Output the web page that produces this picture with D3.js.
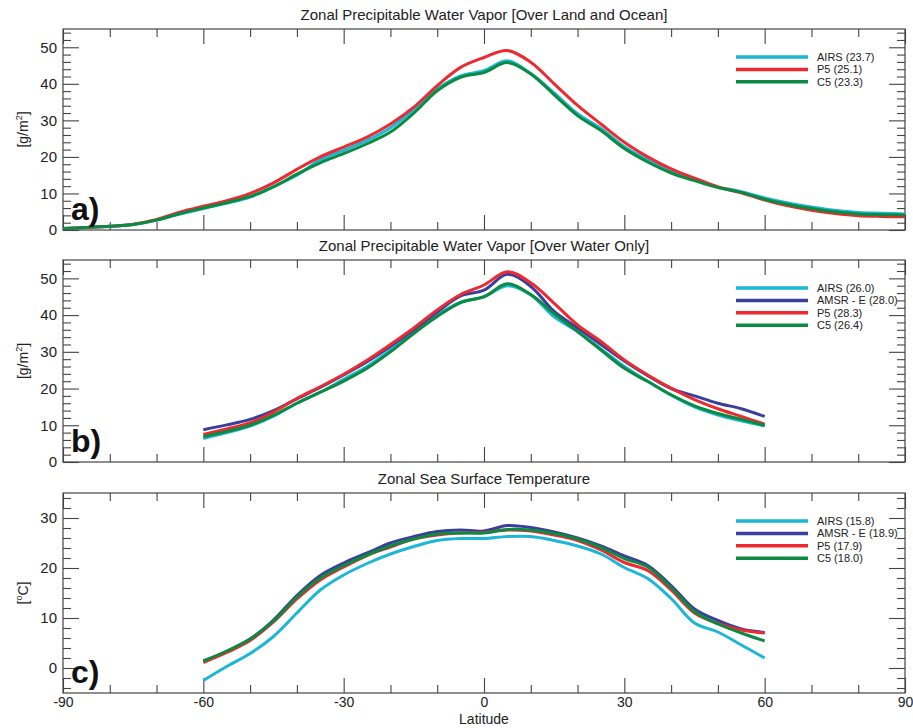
<!DOCTYPE html>
<html>
<head>
<meta charset="utf-8">
<script src="https://cdn.jsdelivr.net/npm/d3@7"></script>
<style>
  body { margin: 0; background: #fff; }
  svg { display: block; font-family: Helvetica, "Liberation Sans", Arial, sans-serif; }
</style>
</head>
<body>
<svg id="chart" width="913" height="728"></svg>
<script>
// latitude grids
const latGlobal = [-90, -85, -80, -75, -70, -65, -60, -55, -50, -45, -40, -35, -30, -25, -20, -15, -10, -5,
  0, 5, 10, 15, 20, 25, 30, 35, 40, 45, 50, 55, 60, 65, 70, 75, 80, 85, 90]
const latOcean = [-60, -55, -50, -45, -40, -35, -30, -25, -20, -15, -10, -5,
  0, 5, 10, 15, 20, 25, 30, 35, 40, 45, 50, 55, 60]

// a) precipitable water, land + ocean [g/m2]
const pwvAllAirs = [0.4, 0.7, 1.0, 1.5, 2.7, 4.4, 5.9, 7.3, 9.0, 11.9, 15.0, 19.2, 21.8, 24.5, 28.0, 33.0, 38.6, 42.2,
  43.6, 46.3, 42.8, 37.5, 31.8, 27.8, 22.8, 19.2, 16.0, 13.8, 11.8, 10.5, 8.8, 7.4, 6.3, 5.4, 4.8, 4.6, 4.4]
const pwvAllP5 = [0.4, 0.7, 1.0, 1.6, 2.9, 4.9, 6.5, 8.0, 10.0, 12.9, 16.6, 20.0, 22.7, 25.4, 29.0, 33.6, 39.5, 44.5,
  47.2, 49.1, 45.9, 40.0, 34.1, 29.0, 24.0, 20.0, 16.7, 14.2, 11.8, 10.2, 8.2, 6.6, 5.4, 4.5, 3.9, 3.7, 3.6]
const pwvAllC5 = [0.4, 0.7, 1.0, 1.5, 2.7, 4.5, 6.0, 7.5, 9.2, 11.8, 15.3, 18.4, 20.9, 23.6, 26.8, 32.0, 38.1, 41.8,
  43.1, 45.8, 42.7, 37.0, 31.3, 27.2, 22.3, 18.6, 15.6, 13.5, 11.6, 10.3, 8.4, 7.0, 5.9, 5.0, 4.4, 4.2, 4.1]

// b) precipitable water, ocean only [g/m2]
const pwvSeaAirs = [6.4, 8.0, 9.8, 12.5, 16.0, 19.0, 22.5, 26.0, 30.5, 35.5, 40.0, 43.5,
  45.0, 48.0, 45.5, 39.5, 35.5, 30.8, 26.0, 22.0, 18.2, 15.0, 12.8, 11.2, 9.8]
const pwvSeaAmsr = [8.8, 10.1, 11.6, 14.0, 17.2, 20.3, 23.7, 27.3, 31.5, 36.0, 40.8, 45.2,
  46.8, 51.1, 47.8, 41.0, 36.5, 32.0, 27.5, 23.5, 20.0, 18.0, 16.0, 14.5, 12.4]
const pwvSeaP5 = [7.5, 9.0, 10.7, 13.6, 17.3, 20.5, 23.9, 27.7, 32.0, 36.5, 41.4, 45.6,
  48.2, 51.8, 48.8, 43.2, 37.3, 32.8, 27.8, 23.7, 20.1, 17.0, 14.5, 12.4, 10.3]
const pwvSeaC5 = [6.9, 8.3, 10.0, 12.7, 16.0, 19.0, 22.0, 25.5, 30.0, 35.0, 39.6, 43.4,
  45.0, 48.5, 45.6, 40.4, 35.5, 30.5, 25.5, 21.9, 18.3, 15.3, 13.2, 11.6, 10.0]

// c) sea surface temperature [degC]
const sstAirs = [-2.5, 0.3, 2.9, 6.3, 11.0, 15.6, 18.6, 20.9, 22.8, 24.3, 25.5, 25.9,
  25.9, 26.3, 26.3, 25.5, 24.4, 22.8, 20.1, 17.9, 13.9, 9.0, 7.2, 4.6, 2.0]
const sstAmsr = [1.4, 3.3, 5.8, 9.6, 14.5, 18.5, 21.0, 23.0, 25.0, 26.3, 27.3, 27.6,
  27.4, 28.5, 28.1, 27.2, 26.0, 24.4, 22.4, 20.5, 16.5, 11.8, 9.5, 7.8, 7.1]
const sstP5 = [1.1, 3.1, 5.5, 9.2, 13.8, 17.6, 20.2, 22.5, 24.2, 25.8, 26.6, 27.0,
  27.1, 27.6, 27.4, 26.6, 25.5, 23.6, 21.1, 19.5, 15.6, 11.0, 8.9, 7.6, 7.0]
const sstC5 = [1.4, 3.4, 5.8, 9.4, 14.2, 18.0, 20.5, 22.6, 24.4, 25.8, 26.8, 27.0,
  27.0, 27.7, 27.6, 26.9, 25.8, 24.1, 21.9, 20.2, 16.1, 11.3, 8.8, 7.0, 5.4]

// labels
const titles = ["Zonal Precipitable Water Vapor [Over Land and Ocean]",
  "Zonal Precipitable Water Vapor [Over Water Only]",
  "Zonal Sea Surface Temperature"]
const panelTags = ["a)", "b)", "c)"]
const legendAll = ["AIRS (23.7)", "P5 (25.1)", "C5 (23.3)"]
const legendSea = ["AIRS (26.0)", "AMSR - E (28.0)", "P5 (28.3)", "C5 (26.4)"]
const legendSst = ["AIRS (15.8)", "AMSR - E (18.9)", "P5 (17.9)", "C5 (18.0)"]
const xTickLabels = [-90, -60, -30, 0, 30, 60, 90]
const xTicksMinor = [-80, -70, -50, -40, -20, -10, 10, 20, 40, 50, 70, 80]
const yTicksPwv = [0, 10, 20, 30, 40, 50]
const yTicksSst = [0, 10, 20, 30]

const colAirs = "#1cb6d6", colAmsr = "#3a3f9e", colP5 = "#ec2a30", colC5 = "#0c8a42"

const panels = [
  { top: 29, bottom: 230, domain: [0, 55], ticks: yTicksPwv, unit: "g/m",
    series: [[pwvAllAirs, colAirs], [pwvAllP5, colP5], [pwvAllC5, colC5]], lat: latGlobal, legend: legendAll },
  { top: 260, bottom: 462, domain: [0, 55], ticks: yTicksPwv, unit: "g/m",
    series: [[pwvSeaAirs, colAirs], [pwvSeaAmsr, colAmsr], [pwvSeaP5, colP5], [pwvSeaC5, colC5]], lat: latOcean, legend: legendSea },
  { top: 493, bottom: 693, domain: [-5, 35], ticks: yTicksSst, unit: "C",
    series: [[sstAirs, colAirs], [sstAmsr, colAmsr], [sstP5, colP5], [sstC5, colC5]], lat: latOcean, legend: legendSst }
]

const left = 63, right = 905
const svg = d3.select("#chart")
const x = d3.scaleLinear().domain([-90, 90]).range([left, right])
const plain = d => String(d)   // hyphen minus, as in the original

panels.forEach((p, i) => {
  const y = d3.scaleLinear().domain(p.domain).range([p.bottom, p.top])
  const g = svg.append("g")
  const minorY = d3.range(Math.ceil(p.domain[0] / 2) * 2, p.domain[1], 2).filter(v => v % 10 !== 0)

  // title
  g.append("text")
    .attr("x", (left + right) / 2).attr("y", p.top - 9)
    .attr("text-anchor", "middle").attr("font-size", 15).attr("fill", "#222")
    .text(titles[i])

  // ticks, all pointing inward
  const addAxis = (axis, tx, ty, keepText) => {
    const a = g.append("g").attr("transform", `translate(${tx},${ty})`).call(axis)
    a.select(".domain").remove()
    a.selectAll(".tick line").attr("stroke", "#444").attr("stroke-width", 1.1)
    a.selectAll("text").attr("font-size", 15).attr("fill", "#222").attr("font-family", null)
    if (!keepText) a.selectAll("text").remove()
    return a
  }
  const bottomAxis = addAxis(d3.axisBottom(x).tickValues(xTickLabels).tickSize(-15).tickPadding(9)
    .tickFormat(plain), 0, p.bottom, i === 2)
  bottomAxis.selectAll("text").attr("dy", "0.35em").attr("font-size", 14)
  addAxis(d3.axisBottom(x).tickValues(xTicksMinor).tickSize(-8), 0, p.bottom, false)
  addAxis(d3.axisTop(x).tickValues(xTickLabels).tickSize(-15), 0, p.top, false)
  addAxis(d3.axisTop(x).tickValues(xTicksMinor).tickSize(-8), 0, p.top, false)
  addAxis(d3.axisLeft(y).tickValues(p.ticks).tickSize(-16).tickPadding(6).tickFormat(plain), left, 0, true)
  addAxis(d3.axisLeft(y).tickValues(minorY).tickSize(-8), left, 0, false)
  addAxis(d3.axisRight(y).tickValues(p.ticks).tickSize(-16), right, 0, false)
  addAxis(d3.axisRight(y).tickValues(minorY).tickSize(-8), right, 0, false)

  // frame
  g.append("rect")
    .attr("x", left).attr("y", p.top)
    .attr("width", right - left).attr("height", p.bottom - p.top)
    .attr("fill", "none").attr("stroke", "#444").attr("stroke-width", 1.2)

  // y label
  const yl = g.append("text")
    .attr("transform", `translate(28,${(p.top + p.bottom) / 2}) rotate(-90)`)
    .attr("text-anchor", "middle").attr("font-size", 14).attr("fill", "#222")
  if (p.unit === "g/m") {
    yl.append("tspan").text("[g/m")
    yl.append("tspan").attr("dy", -6).attr("font-size", 9).text("2")
    yl.append("tspan").attr("dy", 6).text("]")
  } else {
    yl.append("tspan").text("[")
    yl.append("tspan").attr("dy", -6).attr("font-size", 9).text("o")
    yl.append("tspan").attr("dy", 6).text("C]")
  }

  // curves
  const line = d3.line()
    .x((d, k) => x(p.lat[k]))
    .y(d => y(d))
    .curve(d3.curveCatmullRom.alpha(0.5))
  p.series.forEach(([vals, col]) => {
    g.append("path")
      .datum(vals)
      .attr("d", line)
      .attr("fill", "none")
      .attr("stroke", col)
      .attr("stroke-width", 3)
      .attr("stroke-linejoin", "round")
  })

  // panel tag
  g.append("text")
    .attr("x", 71).attr("y", p.bottom - 10)
    .attr("font-size", 32).attr("font-weight", "bold").attr("fill", "#111")
    .text(panelTags[i])

  // legend
  const leg = g.append("g")
  p.legend.forEach((lab, k) => {
    const ly = p.top + 28 + k * 12.4
    leg.append("line")
      .attr("x1", 736).attr("x2", 808).attr("y1", ly).attr("y2", ly)
      .attr("stroke", p.series[k][1]).attr("stroke-width", 3.5)
    leg.append("text")
      .attr("x", 817).attr("y", ly + 4)
      .attr("font-size", 11).attr("fill", "#222")
      .text(lab)
  })
})

svg.append("text")
  .attr("x", (left + right) / 2).attr("y", 724)
  .attr("text-anchor", "middle").attr("font-size", 14).attr("fill", "#222")
  .text("Latitude")
</script>
</body>
</html>
